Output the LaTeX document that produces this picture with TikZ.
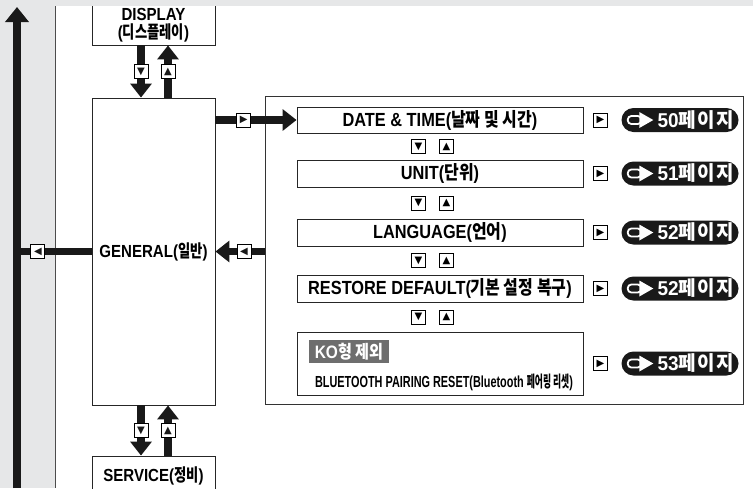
\documentclass[tikz,border=0pt]{standalone}
\usepackage{fontspec}
\setmainfont{Liberation Sans}
\newfontfamily\lcn{Liberation Sans}[FakeStretch=0.86]
\newfontfamily\lpg{Liberation Sans}[FakeStretch=0.95]
\newfontfamily\krn{Noto Sans CJK KR}[FakeStretch=0.84]
\newfontfamily\krl{Noto Sans CJK KR}[FakeStretch=0.76]
\newfontfamily\lbt{Liberation Sans}[FakeStretch=0.68]
\newfontfamily\kbt{Noto Sans CJK KR}[FakeStretch=0.55]
\newfontfamily\kpg{Noto Sans CJK KR}[FakeStretch=0.95,LetterSpace=8]
\newfontfamily\symf{DejaVu Sans}
\usetikzlibrary{arrows.meta}
\newcommand{\kor}[1]{{\krn #1}}
\newcommand{\korl}[1]{{\krl #1}}
\newcommand{\kbtx}[1]{{\kbt #1}}
\newcommand{\kpgx}[1]{{\kpg #1}}
\definecolor{bggray}{HTML}{E6E7E8}
\definecolor{kogray}{HTML}{6E6E6E}
\begin{document}
\begin{tikzpicture}[x=1pt,y=-1pt,
  box/.style={draw=black!85, line width=0.9pt, fill=white, inner sep=0pt,
    font=\lcn\bfseries\fontsize{19}{21}\selectfont},
  lbox/.style={box, minimum width=123pt, font=\lcn\bfseries\fontsize{17.5}{19}\selectfont},
  txt/.style={inner sep=0pt, align=center, font=\lcn\bfseries\fontsize{17.5}{18}\selectfont},
  sbox/.style={draw=black, line width=0.8pt, fill=white, minimum width=14pt,
    minimum height=14pt, inner sep=0pt, font=\symf\fontsize{10}{10}\selectfont},
  conn/.style={line width=7.5pt, black!90},
  tip/.style={-{Triangle[width=21pt,length=14pt]}},
  pill/.style={fill=black!90, rounded corners=12pt, minimum width=117pt,
    minimum height=24pt, inner sep=0pt, text=white,
    font=\lpg\bfseries\fontsize{20}{20}\selectfont},
]
\fill[bggray] (0,0) rectangle (753,488);
\useasboundingbox (0,0) rectangle (753,488);
\fill[white] (55,6) rectangle (753,488);
\draw[black!70, line width=0.8pt] (55,6) -- (55,488);

% left column
\node[lbox, minimum height=51pt] (display) at (153.5,19.5) {};
\node[txt] (displaytxt) at (153.5,25.5) {DISPLAY\\(\korl{디스플레이})};
\node[lbox, minimum height=307pt] (general) at (153.5,251.5) {GENERAL(\korl{일반})};
\node[lbox, minimum height=40pt] (service) at (153.5,476) {\raisebox{2pt}{SERVICE(\korl{정비})}};

% frame and items
\node[draw=black!80, line width=0.9pt, minimum width=478pt, minimum height=308pt, inner sep=0pt] (frame) at (504,250) {};
\node[box, minimum width=286pt, minimum height=26pt] (date) at (440,120) {DATE \& TIME(\kor{날짜 및 시간})};
\node[box, minimum width=286pt, minimum height=27pt] (unit) at (440,173.5) {UNIT(\kor{단위})};
\node[box, minimum width=286pt, minimum height=27pt] (lang) at (440,232.5) {LANGUAGE(\kor{언어})};
\node[box, minimum width=286pt, minimum height=27pt] (rest) at (440,288.5) {RESTORE DEFAULT(\kor{기본 설정 복구})};
\node[box, minimum width=286pt, minimum height=63pt] (bt) at (440,363.5) {};
\node[fill=kogray, text=white, minimum width=80pt, minimum height=23pt, inner sep=0pt,
  font=\lcn\bfseries\fontsize{18}{18}\selectfont] (ko) at (349,351.5) {KO\kor{형 제외}};
\node[inner sep=0pt, font=\lbt\bfseries\fontsize{16}{16}\selectfont] (bttxt) at (444,382)
  {BLUETOOTH PAIRING RESET(Bluetooth \kbtx{페어링 리셋})};

% up/down marks between items
\foreach \n/\y in {a/146.5,b/203,c/260.5,d/317}{
  \node[sbox] (dn\n) at (418.5,\y) {▼};
  \node[sbox] (up\n) at (446.5,\y) {▲};
}

% right marks and page pills
\foreach \n/\y/\pg in {1/120/50,2/173.5/51,3/232.5/52,4/288.5/52,5/363.5/53}{
  \node[sbox] (r\n) at (600.5,\y) {▶};
  \node[pill] (p\n) at (680,\y) {\hspace{32pt}\pg\kpgx{페이지}};
  \draw[white, line width=1.8pt, rounded corners=3.5pt]
    ([xshift=6.5pt,yshift=-4pt]p\n.west) rectangle ([xshift=20pt,yshift=4pt]p\n.west);
  \fill[white] ([xshift=18pt,yshift=8pt]p\n.west) -- ([xshift=32pt]p\n.west)
    -- ([xshift=18pt,yshift=-8pt]p\n.west) -- cycle;
}

% connectors
\draw[conn,tip] ([xshift=-12.5pt]display.south) -- ([xshift=-12.5pt]general.north) node[sbox,midway]{▼};
\draw[conn,tip] ([xshift=14.5pt]general.north) -- ([xshift=14.5pt]display.south) node[sbox,midway]{▲};
\draw[conn,tip] ([xshift=-12.5pt]general.south) -- ([xshift=-12.5pt]service.north) node[sbox,midway]{▼};
\draw[conn,tip] ([xshift=14.5pt]service.north) -- ([xshift=14.5pt]general.south) node[sbox,midway]{▲};
\draw[conn,tip] (general.east |- date.west) -- (date.west) node[sbox,pos=0.35]{▶};
\draw[conn,tip] (frame.west |- general.east) -- (general.east) node[sbox,pos=0.42]{◀};

% top strip over display box
\fill[bggray] (0,0) rectangle (753,6);

% big return arrow
\coordinate (shaftb) at (17,488);
\coordinate (shaftt) at (17,7);
\draw[conn] (general.west) -- (general.west -| shaftb) node[sbox,pos=0.72]{◀};
\draw[conn, line width=8pt, -{Triangle[width=23pt,length=15pt]}] (shaftb) -- (shaftt);
\end{tikzpicture}
\end{document}
